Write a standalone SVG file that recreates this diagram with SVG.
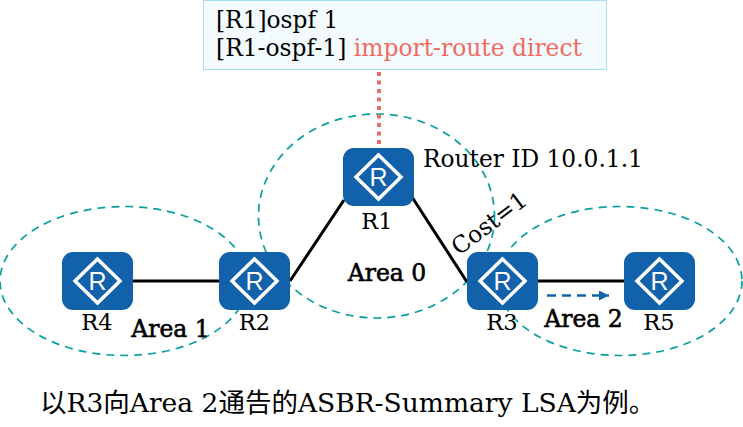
<svg xmlns="http://www.w3.org/2000/svg" width="743" height="427" viewBox="0 0 743 427">
<style>
text{font-family:"DejaVu Serif","Noto Sans CJK SC",serif;fill:#000;font-size:23.300px}
.lbl{font-size:22.500px;text-anchor:middle}
.b{font-size:23.500px;text-anchor:middle;stroke:#000;stroke-width:.6}
.area{fill:none;stroke:#0a9f9f;stroke-width:1.7;stroke-dasharray:8 6}
.link{stroke:#000;stroke-width:3;fill:none}
.box{fill:#1161ab}
.dia{fill:none;stroke:#fff;stroke-width:3.500}
.r{font-family:"Liberation Sans",sans-serif;font-size:25px;fill:#fff;text-anchor:middle;stroke:none}
</style>
<defs>
<g id="router">
<rect class="box" x="-35.500" y="-29" width="71" height="58" rx="11"/>
<path class="dia" d="M0-22L22.500 0L0 22L-22.500 0Z"/>
<text class="r" x="0" y="9">R</text>
</g>
<marker id="ah" markerUnits="userSpaceOnUse" markerWidth="11" markerHeight="10" refX="10" refY="5" orient="auto"><path d="M0 0L10 5L0 10Z" fill="#1161ab"/></marker>
</defs>
<g id="areas">
<ellipse class="area" cx="124" cy="281" rx="124" ry="74.500"/>
<ellipse class="area" cx="376.500" cy="216" rx="118" ry="102"/>
<ellipse class="area" cx="620" cy="281" rx="122" ry="74.500"/>
</g>
<g id="connectors">
<path class="link" d="M133 281H220M290 281L344 200M412 197L467 282M537 281H625"/>
<path d="M379 72V148" fill="none" stroke="#ef6b5f" stroke-width="4" stroke-dasharray="4 4.500"/>
<path d="M547 295.500H609" fill="none" stroke="#1161ab" stroke-width="2.500" stroke-dasharray="9 6" marker-end="url(#ah)"/>
</g>
<g id="config">
<rect x="203.500" y="0.500" width="403" height="69" fill="#f3fbff" stroke="#a5dff5" stroke-width="1"/>
<text x="216" y="28">[R1]ospf 1</text>
<text x="216" y="56" style="font-size:23.400px">[R1-ospf-1] <tspan fill="#ef6b5f">import-route direct</tspan></text>
</g>
<g id="R1"><use href="#router" x="378.500" y="177"/><text class="lbl" x="377" y="229">R1</text></g>
<g id="R2"><use href="#router" x="254.500" y="281"/><text class="lbl" x="254.500" y="330">R2</text></g>
<g id="R3"><use href="#router" x="502.500" y="281"/><text class="lbl" x="502" y="330">R3</text></g>
<g id="R4"><use href="#router" x="97.500" y="281"/><text class="lbl" x="97" y="330">R4</text></g>
<g id="R5"><use href="#router" x="659.500" y="281"/><text class="lbl" x="659" y="330">R5</text></g>
<text x="423" y="167">Router ID 10.0.1.1</text>
<text x="0" y="0" transform="translate(459 256) rotate(-37)">Cost=1</text>
<text class="b" x="387" y="281">Area 0</text>
<text class="b" x="170.500" y="337">Area 1</text>
<text class="b" x="583.500" y="327">Area 2</text>
<text x="40" y="412" style="font-size:26.500px">以R3向Area 2通告的ASBR-Summary LSA为例。</text>
</svg>
